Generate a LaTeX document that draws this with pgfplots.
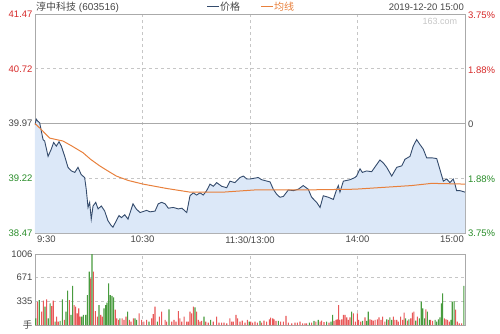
\documentclass[border=0pt]{standalone}
\usepackage{pgfplots}
\pgfplotsset{compat=1.18}
\usepackage{pgfplotstable}
\usepackage{fontspec}
\setmainfont{Liberation Sans}
\newfontfamily\cjk{Noto Sans CJK SC}
\definecolor{pline}{RGB}{52,75,108}
\definecolor{pfill}{RGB}{220,232,248}
\definecolor{avgc}{RGB}{232,128,60}
\definecolor{upc}{RGB}{232,88,88}
\definecolor{dnc}{RGB}{72,155,62}
\definecolor{txtc}{RGB}{70,70,70}
\definecolor{redt}{RGB}{214,40,40}
\definecolor{greent}{RGB}{40,140,40}
\definecolor{bord}{RGB}{170,170,170}

\pgfplotstableread{
t p
0 39.95
0.7 40.03
1.6 40.00
2.6 39.98
4.5 39.75
5.4 39.73
7.3 39.52
9.1 39.62
10.4 39.71
11.9 39.66
13.4 39.72
14.7 39.66
16.6 39.52
18.4 39.37
20.3 39.32
22.2 39.30
24.0 39.37
25.8 39.27
27.7 39.23
28.6 39.07
29.6 38.82
30.5 38.89
31.4 38.66
32.4 38.84
33.9 38.89
35.2 38.80
37.0 38.84
38.9 38.77
40.7 38.64
42.6 38.57
43.5 38.55
45.0 38.62
46.9 38.71
48.2 38.68
50.1 38.72
51.9 38.66
54.7 38.87
56.5 38.80
58.6 38.75
62.3 38.78
64.2 38.76
67.0 38.77
68.8 38.87
70.7 38.89
72.6 38.87
74.4 38.81
77.2 38.82
80.0 38.80
82.0 38.81
84.7 38.75
86.5 38.98
88.3 39.02
90.2 38.99
92.1 39.02
93.9 38.99
95.8 39.05
97.7 39.14
99.5 39.11
101.4 39.16
104.2 39.11
107.0 39.09
108.8 39.18
111.6 39.16
114.4 39.23
116.3 39.25
118.2 39.21
120.0 39.21
124.6 39.23
126.5 39.20
131.2 39.17
133.0 39.07
134.9 39.00
136.7 38.96
138.6 38.97
141.4 39.06
144.2 39.05
147.0 39.07
149.7 39.12
152.5 39.07
154.4 38.96
157.2 38.89
159.1 38.82
160.9 38.98
163.7 38.96
166.5 38.93
168.4 39.07
169.3 39.12
170.2 39.03
172.1 39.18
175.8 39.20
178.6 39.23
179.5 39.25
181.4 39.35
182.7 39.30
185.1 39.32
187.9 39.31
192.5 39.47
194.4 39.43
196.3 39.37
199.1 39.25
201.9 39.37
204.7 39.39
206.5 39.48
209.3 39.52
211.1 39.66
213.0 39.75
214.9 39.68
216.7 39.62
218.6 39.50
221.4 39.50
224.2 39.49
226.0 39.34
227.9 39.18
229.8 39.21
231.6 39.16
233.4 39.21
234.4 39.14
235.3 39.05
237.2 39.05
240.0 39.03
}\price

\pgfplotstableread{
t a
0 39.97
3 39.90
8.2 39.77
15.6 39.73
20 39.67
26.8 39.57
31 39.48
36.1 39.39
40 39.33
45.4 39.25
52 39.19
60.3 39.14
73.5 39.08
86.5 39.03
105.1 39.03
122.8 39.06
150 39.06
178.6 39.07
210.2 39.12
221.4 39.15
240 39.14
}\avg

\pgfplotstableread{
t v
1.3 330
3.7 189
4.7 344
6.5 364
9.3 269
10.2 344
12.1 118
13.0 47
16.4 71
19.2 354
21.8 283
22.7 260
23.6 165
24.4 236
25.1 118
31.1 661
32.6 756
33.7 198
34.8 118
36.7 142
37.6 118
44.8 217
45.6 94
46.7 71
48.6 94
49.7 71
50.8 118
52.7 71
53.6 47
54.9 94
58.1 165
59.5 71
60.8 47
62.3 71
65.1 94
66.0 155
67.0 260
69.4 118
70.7 189
72.6 71
73.5 47
76.3 47
77.6 71
78.7 47
80.0 198
80.9 94
81.9 47
83.2 118
84.7 47
85.6 47
86.5 189
87.4 165
88.4 260
90.2 189
91.2 71
92.1 47
93.0 57
95.3 47
96.7 33
99.5 47
101.4 118
102.7 33
104.2 33
105.5 33
107.0 24
108.8 94
109.8 47
110.7 47
112.2 142
113.1 94
114.4 47
115.7 61
117.2 33
118.5 71
120.4 47
121.5 33
122.8 47
124.1 33
126.5 33
127.8 61
129.3 47
130.8 80
131.5 104
132.7 94
133.4 80
134.5 57
137.1 47
138.6 47
140.1 128
141.4 33
143.3 24
145.1 33
146.4 33
147.9 47
149.4 24
150.7 24
151.6 24
154.4 33
156.8 47
159.1 47
160.0 61
161.3 42
164.1 33
166.9 57
168.0 71
168.7 80
169.5 283
170.2 71
171.2 80
172.1 142
173.0 142
174.0 109
174.9 71
175.8 109
177.7 165
178.8 47
179.9 165
180.6 71
181.8 47
184.2 109
187.0 80
187.9 71
188.8 61
189.8 71
191.1 80
192.0 109
193.1 71
194.0 118
195.3 47
197.2 71
200.0 118
200.9 71
201.9 71
202.8 47
204.1 118
205.2 71
206.0 175
207.8 61
209.7 94
210.6 175
211.5 189
213.4 118
218.2 222
220.8 71
221.9 57
228.5 94
229.4 80
230.3 71
231.3 47
234.8 217
235.7 47
236.8 24
238.1 24
}\volup

\pgfplotstableread{
t v
0.4 94
2.4 354
5.6 260
7.4 94
8.4 307
11.2 47
14.0 57
15.3 364
17.3 189
18.2 486
20.1 142
21.0 553
26.1 118
27.0 142
28.3 142
29.2 425
30.3 756
31.8 1006
35.7 283
38.5 236
39.4 283
40.2 316
41.1 590
42.0 425
43.0 411
43.9 392
47.4 94
51.7 189
55.8 94
56.7 71
63.6 47
68.3 47
74.8 222
89.3 250
94.3 118
98.0 71
119.6 47
125.6 57
135.8 57
153.1 33
155.7 57
158.1 71
162.8 47
165.2 47
166.1 142
176.7 189
182.9 57
185.1 57
186.0 189
196.3 80
198.1 109
199.1 71
206.9 94
208.7 80
212.5 61
214.5 94
215.6 330
216.4 236
217.5 94
219.0 189
220.1 71
223.3 71
224.2 47
225.1 80
226.0 109
226.8 307
227.5 449
232.2 71
232.9 330
233.9 340
239.4 553
}\voldn

\begin{document}
\begin{tikzpicture}[x=1pt,y=1pt]
\useasboundingbox (0,0) rectangle (500,333);
% header
\node[anchor=west,inner sep=0pt,text=txtc,font=\fontsize{10}{10}\selectfont] at (36,326) {{\cjk 淳中科技} (603516)};
\draw[pline,line width=1pt] (207,326) -- (219,326);
\node[anchor=west,inner sep=0pt,text=txtc,font=\fontsize{10}{10}\cjk] at (220,326) {价格};
\draw[avgc,line width=1pt] (261,326) -- (273,326);
\node[anchor=west,inner sep=0pt,text=avgc,font=\fontsize{10}{10}\cjk] at (274,326) {均线};
\node[anchor=east,inner sep=0pt,text=txtc,font=\fontsize{9.5}{10}\selectfont] at (464,326) {2019-12-20 15:00};

\begin{axis}[
  at={(35pt,100pt)}, anchor=south west, scale only axis,
  width=430pt, height=219pt,
  xmin=0, xmax=240, ymin=38.47, ymax=41.47,
  xtick={60,120,180}, xticklabels={},
  ytick={38.47,39.22,40.72,41.47},
  yticklabels={\textcolor{greent}{38.47},\textcolor{greent}{39.22},\textcolor{redt}{40.72},\textcolor{redt}{41.47}},
  extra y ticks={39.97}, extra y tick labels={\textcolor{txtc}{39.97}},
  extra y tick style={grid=major, major grid style={solid, draw=bord, line width=0.8pt}},
  grid=major, major grid style={dashed, draw=gray!45, line width=0.6pt},
  major tick length=0pt,
  axis line style={draw=bord, line width=0.8pt},
  tick label style={font=\fontsize{9.5}{10}\selectfont},
  yticklabel style={xshift=1pt},
  /pgf/number format/assume math mode=true,
  clip=true, axis on top=false,
]
\addplot[fill=pfill, draw=none] table[x=t,y=p]{\price} \closedcycle;
\addplot[pline, line width=0.9pt] table[x=t,y=p]{\price};
\addplot[avgc, line width=1pt] table[x=t,y=a]{\avg};
\node[anchor=north east, text=gray!45, font=\fontsize{9}{9}\selectfont] at (rel axis cs:0.99,0.995) {163.com};
\end{axis}
% x labels
\begin{scope}[font=\fontsize{9.5}{10}\selectfont, text=txtc]
\node[anchor=north west,inner sep=0pt] at (37,97) {9:30};
\node[anchor=north,inner sep=0pt] at (142.5,97) {10:30};
\node[anchor=north,inner sep=0pt] at (250,97) {11:30/13:00};
\node[anchor=north,inner sep=0pt] at (357.5,97) {14:00};
\node[anchor=north east,inner sep=0pt] at (464,97) {15:00};
\end{scope}
% right labels
\begin{scope}[font=\fontsize{9.5}{10}\selectfont]
\node[anchor=west,inner sep=0pt,text=redt] at (468,318) {3.75\%};
\node[anchor=west,inner sep=0pt,text=redt] at (468,263) {1.88\%};
\node[anchor=west,inner sep=0pt,text=txtc] at (468,209) {0};
\node[anchor=west,inner sep=0pt,text=greent] at (468,154) {1.88\%};
\node[anchor=west,inner sep=0pt,text=greent] at (468,100) {3.75\%};
\end{scope}

\begin{axis}[
  at={(35pt,8pt)}, anchor=south west, scale only axis,
  width=430pt, height=71pt,
  xmin=0, xmax=240, ymin=0, ymax=1006,
  xtick={60,120,180}, xticklabels={},
  ytick={0,335,671,1006}, yticklabels={{\cjk 手},335,671,1006},
  grid=major, major grid style={dashed, draw=gray!45, line width=0.6pt},
  major tick length=0pt,
  axis line style={draw=bord, line width=0.8pt},
  tick label style={font=\fontsize{9.5}{10}\selectfont, text=txtc},
  yticklabel style={xshift=1pt},
  /pgf/number format/assume math mode=true,
]
\addplot[ybar, bar width=1.1pt, bar shift=0pt, fill=upc, draw=none] table[x=t,y=v]{\volup};
\addplot[ybar, bar width=1.1pt, bar shift=0pt, fill=dnc, draw=none] table[x=t,y=v]{\voldn};
\end{axis}
\end{tikzpicture}
\end{document}
